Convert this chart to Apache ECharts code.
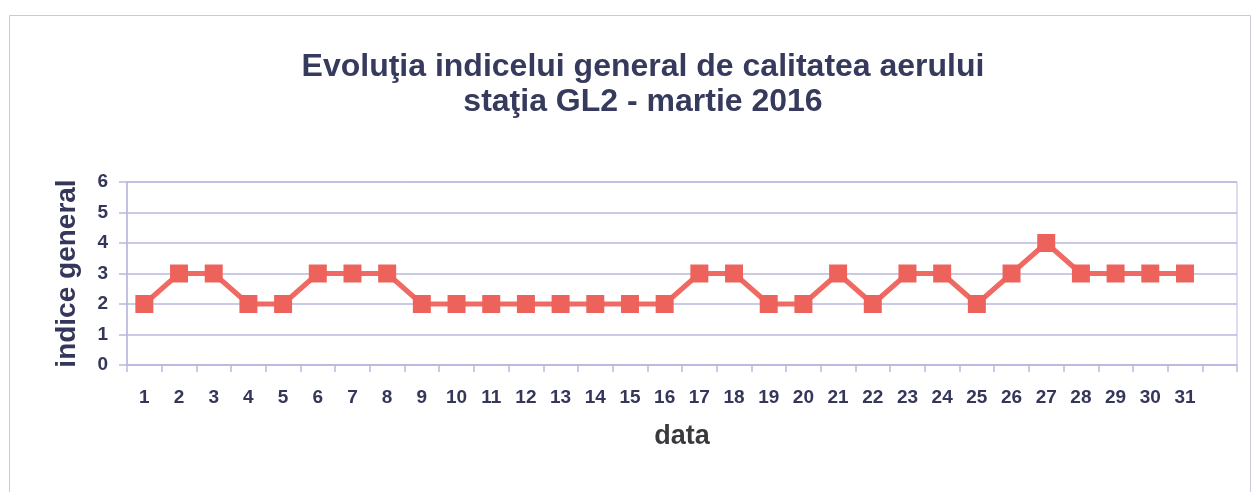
<!DOCTYPE html>
<html>
<head>
<meta charset="utf-8">
<script src="https://cdn.jsdelivr.net/npm/echarts@6/dist/echarts.min.js"></script>
<style>
html,body{margin:0;padding:0;background:#fff;}
#c{width:1259px;height:492px;}
</style>
</head>
<body>
<div id="c"></div>
<script>
const days = ['1','2','3','4','5','6','7','8','9','10','11','12','13','14','15','16','17','18','19','20','21','22','23','24','25','26','27','28','29','30','31',''];
const indiceGeneral = [2,3,3,2,2,3,3,3,2,2,2,2,2,2,2,2,3,3,2,2,3,2,3,3,2,3,4,3,3,3,3];
const yTicks = [0,1,2,3,4,5,6];

const chart = echarts.init(document.getElementById('c'), null, {renderer:'canvas'});
const textColor = '#34375a';
const gridColor = '#b9b9df';
const ff = 'Liberation Sans, Arial, sans-serif';
chart.setOption({
  animation:false,
  backgroundColor:'#ffffff',
  graphic:[{
    type:'rect', shape:{x:9.5,y:15.5,width:1241,height:490},
    style:{fill:null, stroke:'#c9c9dc', lineWidth:1}, silent:true
  }],
  title:{
    text:'Evoluţia indicelui general de calitatea aerului\nstaţia GL2 - martie 2016',
    left:638, textAlign:'center', top:45,
    textStyle:{fontFamily:ff, fontSize:32, fontWeight:'bold', color:'#363a5c', lineHeight:35}
  },
  grid:{left:127, right:22, top:182, height:183, show:true, borderColor:gridColor, borderWidth:1},
  xAxis:{
    type:'category', data:days, boundaryGap:true,
    name:'data', nameLocation:'middle', nameGap:58,
    nameTextStyle:{fontFamily:ff, fontSize:27, fontWeight:'bold', color:'#3a3a3e'},
    axisLine:{lineStyle:{color:gridColor, width:1.5}},
    axisTick:{show:true, alignWithLabel:false, length:7, lineStyle:{color:gridColor, width:1.5}},
    axisLabel:{interval:0, margin:23, fontFamily:ff, fontSize:19, fontWeight:'bold', color:textColor},
    splitLine:{show:false}
  },
  yAxis:{
    type:'value', min:0, max:6, interval:1,
    name:'indice general', nameLocation:'middle', nameGap:46, nameRotate:90,
    nameTextStyle:{fontFamily:ff, fontSize:28, fontWeight:'bold', color:textColor},
    axisLine:{show:true, lineStyle:{color:gridColor, width:1.5}},
    axisTick:{show:true, length:8, lineStyle:{color:gridColor, width:1.5}},
    axisLabel:{margin:19, fontFamily:ff, fontSize:19, fontWeight:'bold', color:textColor,
      formatter:function(v){return yTicks.indexOf(v)>=0?String(v):'';}},
    splitLine:{show:true, lineStyle:{color:gridColor, width:1.5}}
  },
  series:[{
    type:'line', data:indiceGeneral,
    symbol:'rect', symbolSize:18,
    lineStyle:{color:'#ef6a62', width:5},
    itemStyle:{color:'#ee625c', borderWidth:0},
    z:3
  }]
});
</script>
</body>
</html>
